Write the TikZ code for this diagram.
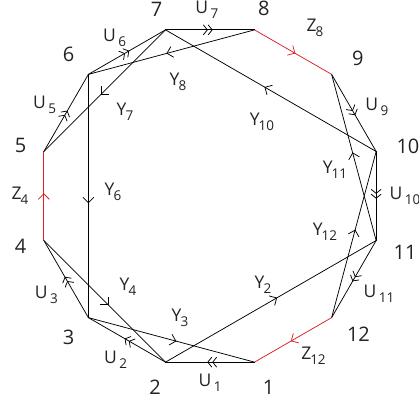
\documentclass[tikz,border=0pt]{standalone}
\usepackage{fontspec}
\setmainfont{Open Sans}
\usepackage{tikz}
\usetikzlibrary{arrows.meta, decorations.markings}
\definecolor{zcolor}{RGB}{220,30,40}
\definecolor{labelgray}{RGB}{35,35,35}
\newcommand{\ulab}[2]{#1\kern2.5pt\raisebox{-5pt}{\fontsize{13.5}{13.5}\selectfont #2}}
\newcommand{\ylab}[2]{#1\kern-1pt\raisebox{-5pt}{\fontsize{13.5}{13.5}\selectfont #2}}

\begin{document}
\begin{tikzpicture}[x=1pt, y=1pt,
  side/.style={line width=0.75pt, color=black},
  zside/.style={line width=0.75pt, color=zcolor},
  onehead/.style={postaction={decorate},
                  decoration={markings, mark=at position 0.53 with
                    {\arrow{Straight Barb[length=5.5pt, width=11pt]}}}},
  twohead/.style={postaction={decorate},
                  decoration={markings, mark=at position 0.53 with
                    {\arrow{Straight Barb[length=4pt, width=10pt]
                            Straight Barb[length=4pt, width=10pt]}}}},
  vnum/.style={font=\fontsize{20}{20}\selectfont, text=labelgray, inner sep=0pt},
  elab/.style={font=\fontsize{17.5}{17.5}\selectfont, text=labelgray, inner sep=0pt},
]
\useasboundingbox (-210,-208) rectangle (209,196);

% corners of the 12-gon
\coordinate (p1)  at (285:172);
\coordinate (p2)  at (255:172);
\coordinate (p3)  at (225:172);
\coordinate (p4)  at (195:172);
\coordinate (p5)  at (165:172);
\coordinate (p6)  at (135:172);
\coordinate (p7)  at (105:172);
\coordinate (p8)  at (75:172);
\coordinate (p9)  at (45:172);
\coordinate (p10) at (15:172);
\coordinate (p11) at (-15:172);
\coordinate (p12) at (-45:172);

% corner numbers
\node[vnum] (n1)  at (287:200) {1};
\node[vnum] (n2)  at (254:199) {2};
\node[vnum] (n3)  at (225:200) {3};
\node[vnum] (n4)  at (195:196) {4};
\node[vnum] (n5)  at (165:196) {5};
\node[vnum] (n6)  at (135:200) {6};
\node[vnum] (n7)  at (106:194) {7};
\node[vnum] (n8)  at (74:195) {8};
\node[vnum] (n9)  at (43:202) {9};
\node[vnum] (n10) at (14:204) {10};
\node[vnum] (n11) at (-16:203) {11};
\node[vnum] (n12) at (-43:203) {12};

% sides
\draw[side, twohead]  (p1)  -- (p2);
\draw[side, twohead]  (p2)  -- (p3);
\draw[side, twohead]  (p3)  -- (p4);
\draw[zside, onehead] (p4)  -- (p5);
\draw[side, twohead]  (p5)  -- (p6);
\draw[side, twohead]  (p6)  -- (p7);
\draw[side, twohead]  (p7)  -- (p8);
\draw[zside, onehead] (p8)  -- (p9);
\draw[side, twohead]  (p9)  -- (p10);
\draw[side, twohead]  (p10) -- (p11);
\draw[side, twohead]  (p11) -- (p12);
\draw[zside, onehead] (p12) -- (p1);

% diagonals
\draw[side, onehead] (p2)  -- (p11);
\draw[side, onehead] (p3)  -- (p1);
\draw[side, onehead] (p4)  -- (p2);
\draw[side, onehead] (p6)  -- (p3);
\draw[side, onehead] (p7)  -- (p5);
\draw[side, onehead] (p8)  -- (p6);
\draw[side, onehead] (p10) -- (p7);
\draw[side, onehead] (p11) -- (p9);
\draw[side, onehead] (p12) -- (p10);

% side labels
\node[elab] (u1)  at (270:187) {\ulab{U}{1}};
\node[elab] (u2)  at (240:189) {\ulab{U}{2}};
\node[elab] (u3)  at (211:191) {\ulab{U}{3}};
\node[elab] (z4)  at (180:190) {\ylab{Z}{4}};
\node[elab] (u5)  at (151:189) {\ulab{U}{5}};
\node[elab] (u6)  at (121:185) {\ulab{U}{6}};
\node[elab] (u7)  at (91:186)  {\ulab{U}{7}};
\node[elab] (z8)  at (58:198)  {\ylab{Z}{8}};
\node[elab] (u9)  at (28:189)  {\ulab{U}{9}};
\node[elab] (u10) at (0:195)   {\ulab{U}{10}};
\node[elab] (u11) at (-30:195) {\ulab{U}{11}};
\node[elab] (z12) at (-57:190) {\ylab{Z}{12}};

% diagonal labels
\node[elab] (y2)  at (53,-89)  {\ylab{Y}{2}};
\node[elab] (y3)  at (-30,-122) {\ylab{Y}{3}};
\node[elab] (y4)  at (-82,-91) {\ylab{Y}{4}};
\node[elab] (y6)  at (-97,4)   {\ylab{Y}{6}};
\node[elab] (y7)  at (-85,84)  {\ylab{Y}{7}};
\node[elab] (y8)  at (-32,114) {\ylab{Y}{8}};
\node[elab] (y10) at (52,74)   {\ylab{Y}{10}};
\node[elab] (y11) at (125,26)  {\ylab{Y}{11}};
\node[elab] (y12) at (115,-36) {\ylab{Y}{12}};
\end{tikzpicture}
\end{document}
